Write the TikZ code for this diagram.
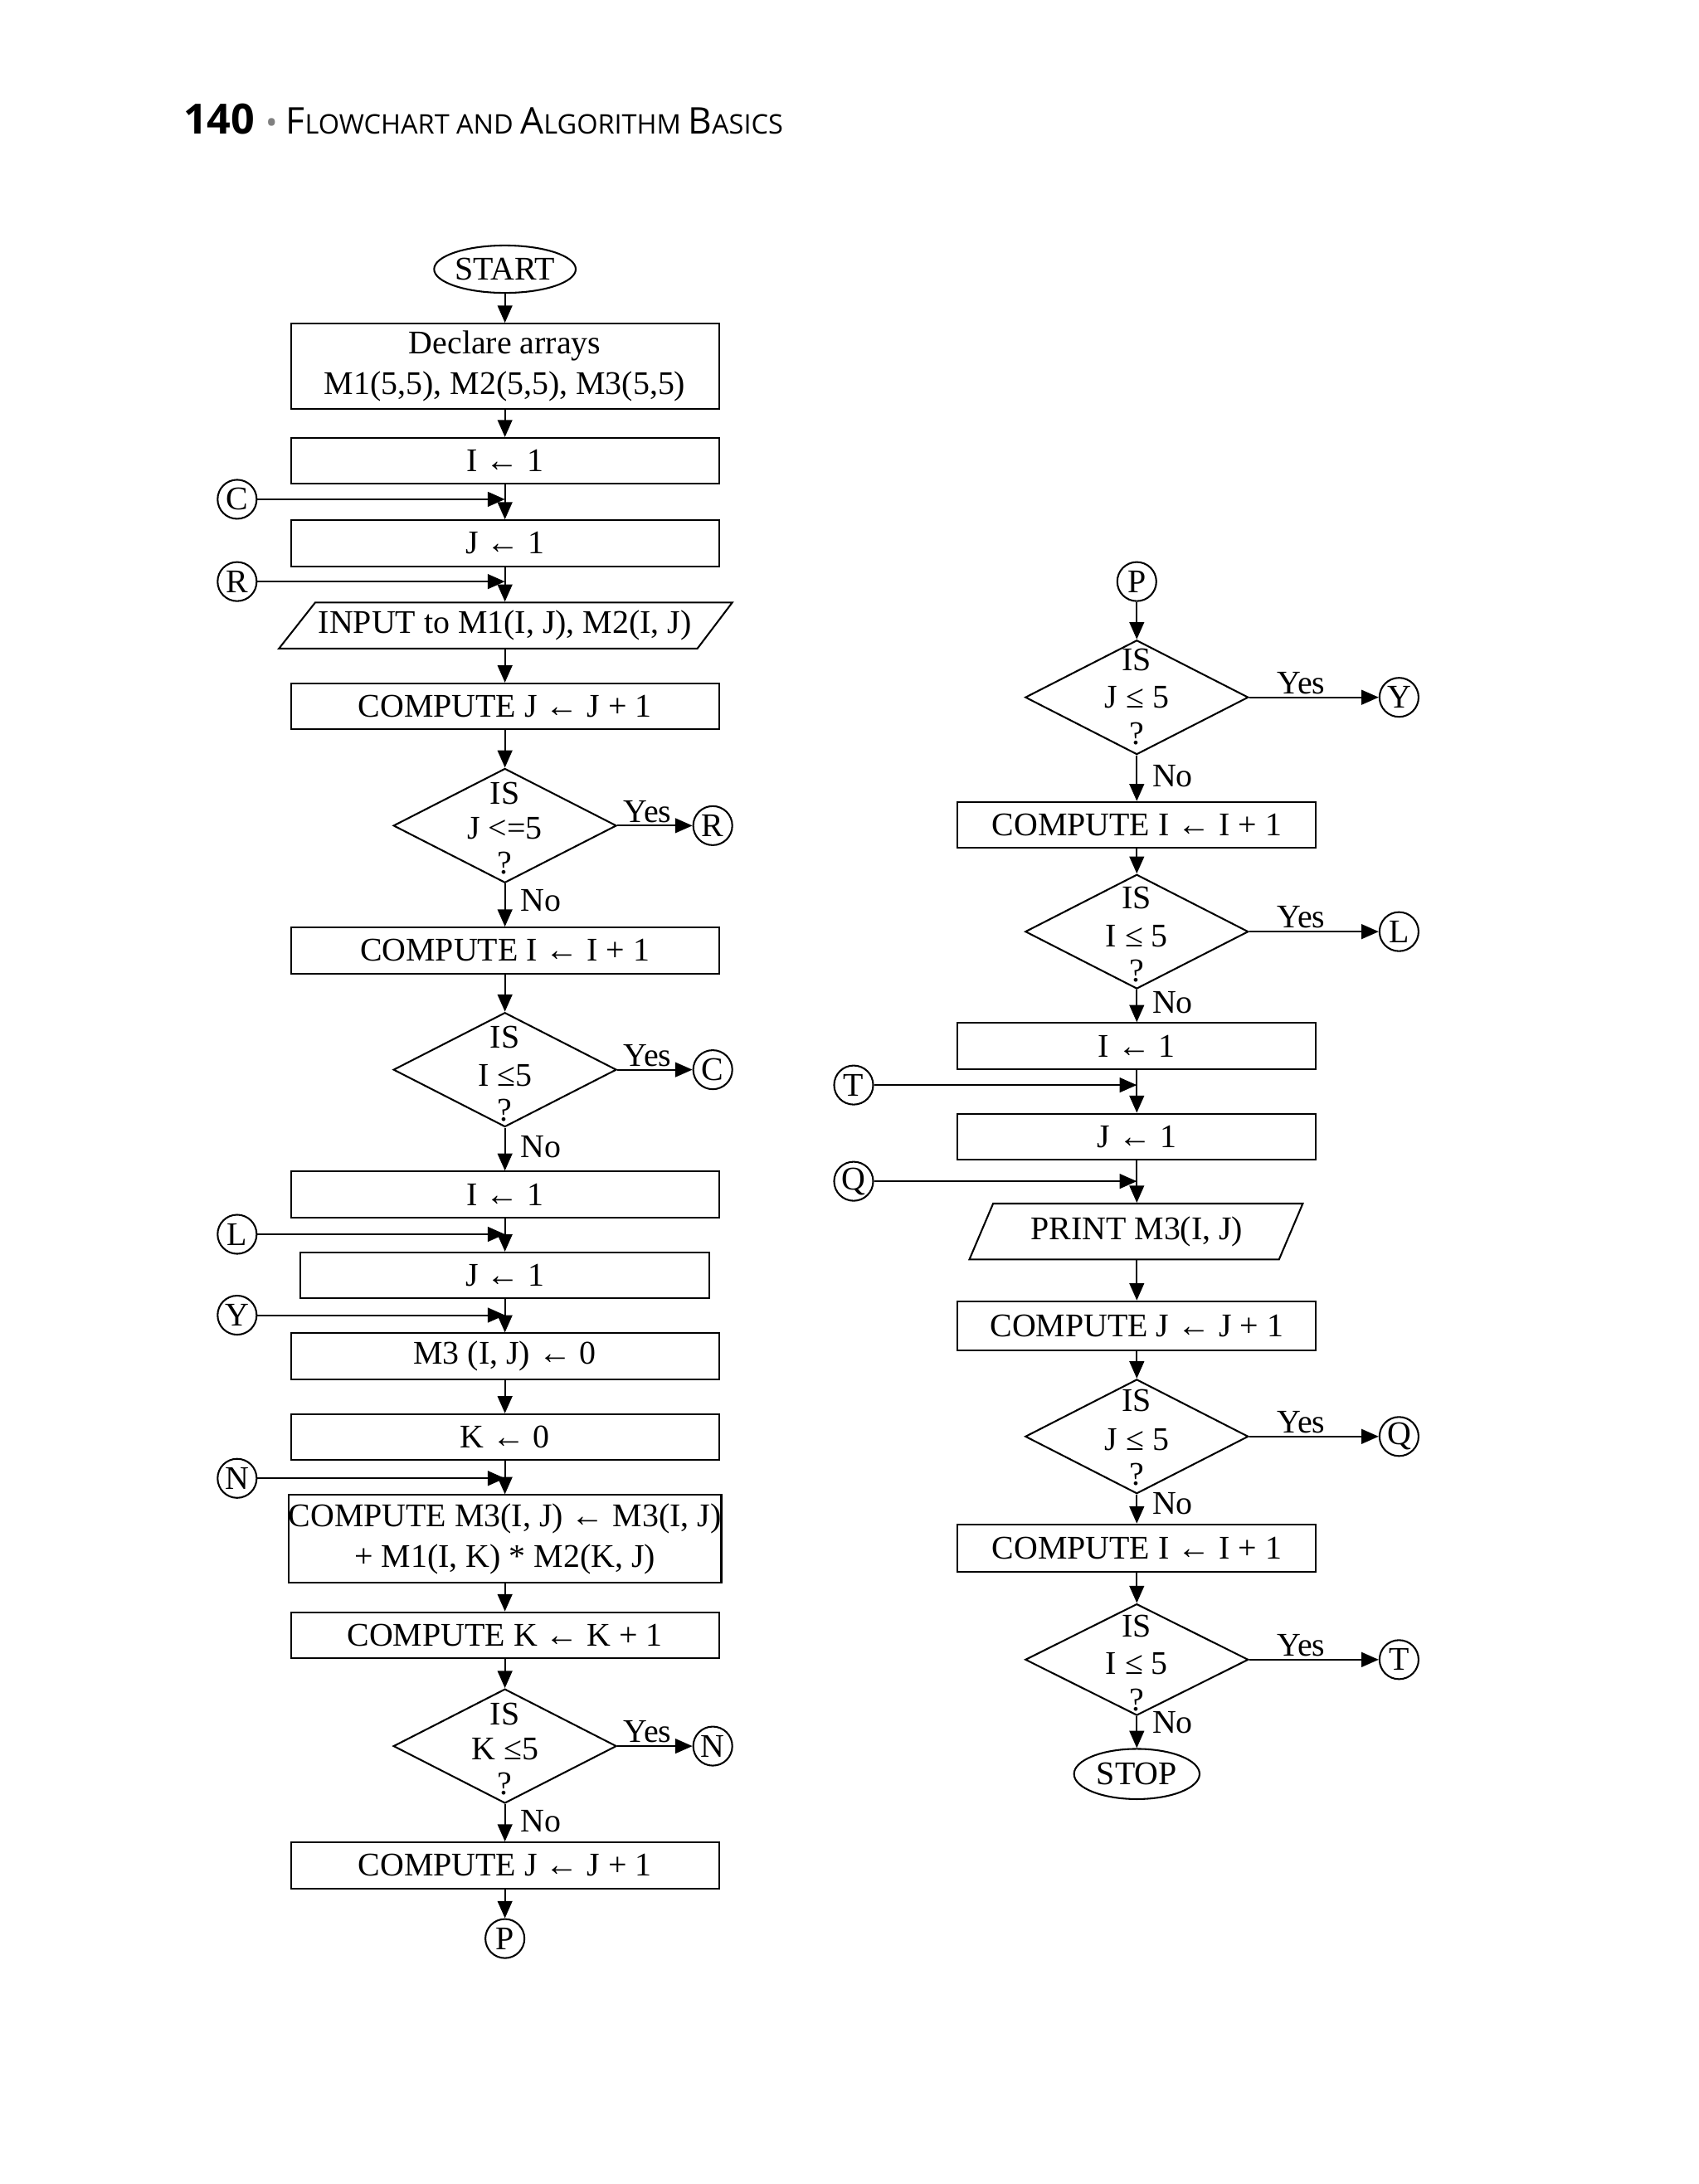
\documentclass[tikz,border=0pt]{standalone}
\usepackage{fontspec}
\setmainfont{Liberation Serif}
\newfontfamily\hdr{Open Sans}
\usetikzlibrary{shapes.geometric,arrows.meta}
\begin{document}
\begin{tikzpicture}[x=0.02cm,y=-0.02cm,line width=0.7pt,
  font=\fontsize{13.5}{16.5}\selectfont,
  >={Triangle[length=7pt,width=6pt]},
  box/.style={draw,rectangle,minimum width=6.14cm,minimum height=0.66cm,inner sep=0pt,align=center},
  rbox/.style={box,minimum width=5.14cm},
  dia/.style={draw,diamond,minimum width=3.2cm,minimum height=1.64cm,inner sep=0pt},
  con/.style={draw,circle,minimum size=0.56cm,inner sep=0pt},
  term/.style={draw,ellipse,minimum width=1.9cm,minimum height=0.68cm,inner sep=0pt},
  lab/.style={inner sep=1pt},
  nolab/.style={inner sep=0pt,right,xshift=6pt}]
\useasboundingbox (0,0) rectangle (1218,1566);
% header
\node[anchor=base west,inner sep=0] (hd) at (131,96) {\hdr\fontsize{17}{19}\selectfont\bfseries 140\ \mdseries\fontsize{13}{14}\selectfont\color{gray}\textbullet\color{black}\ \fontsize{15}{16}\selectfont F\fontsize{11}{12}\selectfont LOWCHART AND \fontsize{15}{16}\selectfont A\fontsize{11}{12}\selectfont LGORITHM \fontsize{15}{16}\selectfont B\fontsize{11}{12}\selectfont ASICS};
% ---------- left column
\node[term] (start) at (362,193) {START};
\node[box,minimum height=1.22cm] (decl) at (362,262.5) {Declare arrays\\M1(5,5), M2(5,5), M3(5,5)};
\node[box] (i1) at (362,330.5) {I ← 1};
\node[con] (cC) at (170,358) {C};
\node[box] (j1) at (362,389.5) {J ← 1};
\node[con] (cR) at (170,417) {R};
\node[minimum width=5.6cm,minimum height=0.66cm,inner sep=0] (inp) at (362,448.5) {INPUT to M1(I, J), M2(I, J)};
\draw (226,432) -- (525,432) -- (500,465) -- (200,465) -- cycle;
\node[box] (cj1) at (362,506.5) {COMPUTE J ← J + 1};
\node[dia] (d1) at (362,592) {};
\node at (362,569) {IS}; \node at (362,594) {J <=5}; \node at (362,619) {?};
\node[con] (cR2) at (511,592) {R};
\node[box] (ci1) at (362,681.5) {COMPUTE I ← I + 1};
\node[dia] (d2) at (362,767) {};
\node at (362,744) {IS}; \node at (362,771) {I ≤5}; \node at (362,796) {?};
\node[con] (cC2) at (511,767) {C};
\node[box] (i2) at (362,856.5) {I ← 1};
\node[con] (cL) at (170,885) {L};
\node[box,minimum width=5.86cm] (j2) at (362,914.5) {J ← 1};
\node[con] (cY) at (170,943) {Y};
\node[box] (m30) at (362,972.5) {M3 (I, J) ← 0};
\node[box] (k0) at (362,1030.5) {K ← 0};
\node[con] (cN) at (170,1060) {N};
\node[box,minimum height=1.26cm] (cm3) at (362,1103.5) {COMPUTE M3(I, J) ← M3(I, J)\\+ M1(I, K) * M2(K, J)};
\node[box] (ck) at (362,1172.5) {COMPUTE K ← K + 1};
\node[dia] (d3) at (362,1252) {};
\node at (362,1229) {IS}; \node at (362,1254) {K ≤5}; \node at (362,1279) {?};
\node[con] (cN2) at (511,1252) {N};
\node[box] (cj2) at (362,1337.5) {COMPUTE J ← J + 1};
\node[con] (cP) at (362,1390) {P};
% arrows left
\draw[->] (start) -- (decl);
\draw[->] (decl) -- (i1);
\draw[->] (i1) -- (j1);
\draw[->] (cC) -- (cC -| i1);
\draw[->] (j1) -- (j1 |- inp.north);
\draw[->] (cR) -- (cR -| j1);
\draw[->] (inp.south) -- (cj1);
\draw[->] (cj1) -- (d1.north);
\draw[->] (d1.east) -- node[lab,above,pos=0.4]{Yes} (cR2);
\draw[->] (d1.south) -- node[nolab,pos=0.4]{No} (ci1);
\draw[->] (ci1) -- (d2.north);
\draw[->] (d2.east) -- node[lab,above,pos=0.4]{Yes} (cC2);
\draw[->] (d2.south) -- node[nolab,pos=0.45]{No} (i2);
\draw[->] (i2) -- (j2);
\draw[->] (cL) -- (cL -| i2);
\draw[->] (j2) -- (m30);
\draw[->] (cY) -- (cY -| j2);
\draw[->] (m30) -- (k0);
\draw[->] (k0) -- (cm3);
\draw[->] (cN) -- (cN -| k0);
\draw[->] (cm3) -- (ck);
\draw[->] (ck) -- (d3.north);
\draw[->] (d3.east) -- node[lab,above,pos=0.4]{Yes} (cN2);
\draw[->] (d3.south) -- node[nolab,pos=0.45]{No} (cj2);
\draw[->] (cj2) -- (cP);
% ---------- right column
\node[con] (rP) at (815,417) {P};
\node[dia] (e1) at (815,500) {};
\node at (815,473) {IS}; \node at (815,500) {J ≤ 5}; \node at (815,526) {?};
\node[con] (rY) at (1003,500) {Y};
\node[rbox] (rci1) at (815,591.5) {COMPUTE I ← I + 1};
\node[dia] (e2) at (815,668) {};
\node at (815,644) {IS}; \node at (815,671) {I ≤ 5}; \node at (815,696) {?};
\node[con] (rL) at (1003,668) {L};
\node[rbox] (ri1) at (815,750) {I ← 1};
\node[con] (rT) at (612,778) {T};
\node[rbox] (rj1) at (815,815) {J ← 1};
\node[con] (rQ) at (612,847) {Q};
\node[minimum width=4.4cm,minimum height=0.8cm,inner sep=0] (pr) at (815,883) {PRINT M3(I, J)};
\draw (712,863) -- (934,863) -- (917,903) -- (695,903) -- cycle;
\node[rbox,minimum height=0.7cm] (rcj) at (815,950.5) {COMPUTE J ← J + 1};
\node[dia] (e3) at (815,1030) {};
\node at (815,1004) {IS}; \node at (815,1032) {J ≤ 5}; \node at (815,1057) {?};
\node[con] (rQ2) at (1003,1030) {Q};
\node[rbox,minimum height=0.68cm] (rci2) at (815,1110) {COMPUTE I ← I + 1};
\node[dia,minimum height=1.6cm] (e4) at (815,1190) {};
\node at (815,1166) {IS}; \node at (815,1193) {I ≤ 5}; \node at (815,1219) {?};
\node[con] (rT2) at (1003,1190) {T};
\node[term,minimum width=1.8cm,minimum height=0.72cm] (stop) at (815,1272) {STOP};
% arrows right
\draw[->] (rP) -- (e1.north);
\draw[->] (e1.east) -- node[lab,above,pos=0.4]{Yes} (rY);
\draw[->] (e1.south) -- node[nolab,pos=0.45]{No} (rci1);
\draw[->] (rci1) -- (e2.north);
\draw[->] (e2.east) -- node[lab,above,pos=0.4]{Yes} (rL);
\draw[->] (e2.south) -- node[nolab,pos=0.4]{No} (ri1);
\draw[->] (ri1) -- (rj1);
\draw[->] (rT) -- (rT -| ri1);
\draw[->] (rj1) -- (rj1 |- pr.north);
\draw[->] (rQ) -- (rQ -| rj1);
\draw[->] (pr.south) -- (rcj);
\draw[->] (rcj) -- (e3.north);
\draw[->] (e3.east) -- node[lab,above,pos=0.4]{Yes} (rQ2);
\draw[->] (e3.south) -- node[nolab,pos=0.3]{No} (rci2);
\draw[->] (rci2) -- (e4.north);
\draw[->] (e4.east) -- node[lab,above,pos=0.4]{Yes} (rT2);
\draw[->] (e4.south) -- node[nolab,pos=0.2]{No} (stop);
\end{tikzpicture}
\end{document}
